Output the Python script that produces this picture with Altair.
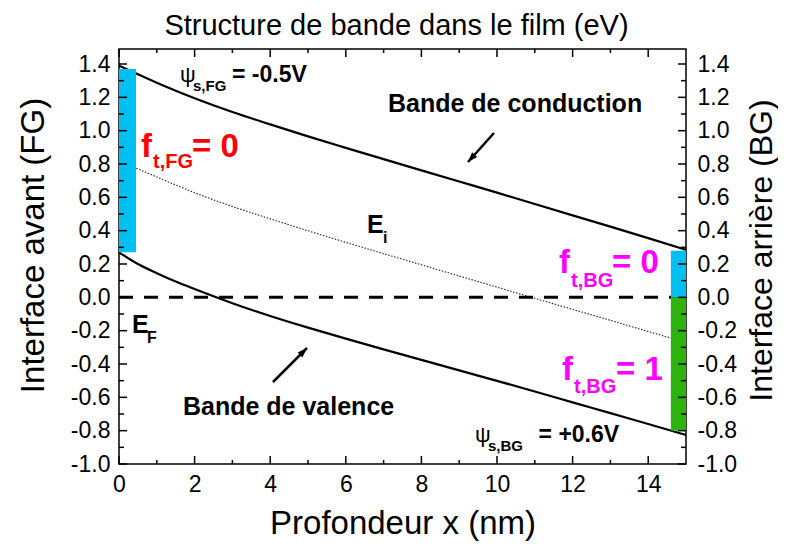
import math
import altair as alt
import pandas as pd

# ---------------- data ----------------
depth_nm = [0, 0.5, 1, 1.5, 2, 3, 4, 5, 6, 7, 8, 9, 10, 11, 12, 13, 14, 15]
conduction_eV = [1.39, 1.338, 1.288, 1.24, 1.195, 1.112, 1.038, 0.966, 0.897, 0.829,
                 0.762, 0.695, 0.628, 0.56, 0.492, 0.424, 0.355, 0.285]
valence_eV = [0.27, 0.2, 0.145, 0.095, 0.05, -0.035, -0.112, -0.182, -0.248, -0.312,
              -0.375, -0.438, -0.501, -0.565, -0.63, -0.695, -0.76, -0.826]
intrinsic_eV = [0.815, 0.77, 0.722, 0.674, 0.628, 0.545, 0.471, 0.399, 0.33, 0.262,
                0.195, 0.128, 0.061, -0.006, -0.072, -0.138, -0.205, -0.27]
fermi_eV = [0.0]
fermi_span = [0, 15]

# interface trap occupancy bands (depth range, energy range)
trap_x0 = [0, 14.6, 14.6]
trap_x1 = [0.45, 15, 15]
trap_e0 = [0.27, 0.0, -0.8]
trap_e1 = [1.37, 0.28, 0.0]
trap_kind = ["empty", "empty", "full"]

# arrows (tail -> head) in data units
arrow_x0 = [9.92, 4.074]
arrow_y0 = [0.986, -0.508]
arrow_x1 = [9.233, 4.974]
arrow_y1 = [0.812, -0.304]

# tick values
x_major = [0, 2, 4, 6, 8, 10, 12, 14]
x_minor = [1, 3, 5, 7, 9, 11, 13]
y_major = [-1.0, -0.8, -0.6, -0.4, -0.2, 0.0, 0.2, 0.4, 0.6, 0.8, 1.0, 1.2, 1.4]
y_minor = [-0.9, -0.7, -0.5, -0.3, -0.1, 0.1, 0.3, 0.5, 0.7, 0.9, 1.1, 1.3]

chart_title = "Structure de bande dans le film (eV)"

# annotations: (text, x, y, style)
annotations = [
    ("\u03c8", 1.614, 1.292, "psi"),
    ("s,FG", 1.958, 1.238, "psisub"),
    ("= -0.5V", 2.989, 1.292, "psival"),
    ("Bande de conduction", 7.116, 1.112, "band"),
    ("f", 0.582, 0.842, "ft_red"),
    ("t,FG", 0.899, 0.776, "ftsub_red"),
    ("= 0", 1.931, 0.842, "ft_red"),
    ("E", 6.561, 0.386, "band"),
    ("i", 6.984, 0.326, "esub"),
    ("E", 0.344, -0.214, "band"),
    ("F", 0.741, -0.274, "esub"),
    ("Bande de valence", 1.693, -0.706, "band"),
    ("f", 11.64, 0.146, "ft_mag"),
    ("t,BG", 11.958, 0.062, "ftsub_mag"),
    ("= 0", 13.042, 0.146, "ft_mag"),
    ("f", 11.72, -0.496, "ft_mag"),
    ("t,BG", 12.037, -0.574, "ftsub_mag"),
    ("= 1", 13.148, -0.496, "ft_mag"),
    ("\u03c8", 9.418, -0.868, "psi"),
    ("s,BG", 9.762, -0.922, "psisub"),
    ("= +0.6V", 11.1, -0.868, "psival"),
]

# ---------------- styles ----------------
FONT = "Liberation Sans"
W, H = 567, 415
X_DOM = [0, 15]
Y_DOM = [-1.0, 1.49]
BLUE = "#00C0F2"
GREEN = "#2DB40C"
styles = {
    "psi": dict(fontSize=22, fontWeight="normal", color="black"),
    "psisub": dict(fontSize=15, fontWeight="bold", color="black"),
    "psival": dict(fontSize=23, fontWeight="bold", color="black"),
    "band": dict(fontSize=25, fontWeight="bold", color="black"),
    "esub": dict(fontSize=16, fontWeight="bold", color="black"),
    "ft_red": dict(fontSize=33, fontWeight="bold", color="#FF0000"),
    "ftsub_red": dict(fontSize=20, fontWeight="bold", color="#FF0000"),
    "ft_mag": dict(fontSize=33, fontWeight="bold", color="#FF00FF"),
    "ftsub_mag": dict(fontSize=20, fontWeight="bold", color="#FF00FF"),
}

xs = alt.Scale(domain=X_DOM, nice=False, zero=False)
ys = alt.Scale(domain=Y_DOM, nice=False, zero=False)
minus_fix = "replace(format(datum.value, '.1f'), '\u2212', '-')"

xaxis = alt.Axis(values=x_major, format="d", ticks=False, domain=False, grid=False,
                 labelFont=FONT, labelFontSize=23, labelColor="black", labelPadding=9,
                 labelFlush=False, title="Profondeur x (nm)", titleFont=FONT,
                 titleFontSize=33, titleFontWeight="normal", titleColor="black",
                 titleX=W / 2, titleY=69, titleBaseline="alphabetic", titleAlign="center")
yaxis = alt.Axis(values=y_major, labelExpr=minus_fix, ticks=False, domain=False, grid=False,
                 labelFont=FONT, labelFontSize=23, labelColor="black", labelPadding=9,
                 labelFlush=False, title="Interface avant (FG)", titleFont=FONT,
                 titleFontSize=33, titleFontWeight="normal", titleColor="black",
                 titleAngle=270, titleX=-76, titleY=196, titleBaseline="alphabetic",
                 titleAlign="center")
yaxis_r = alt.Axis(orient="right", values=y_major, labelExpr=minus_fix, ticks=False,
                   domain=False, grid=False, labelFont=FONT, labelFontSize=23,
                   labelColor="black", labelPadding=11, labelFlush=False,
                   title="Interface arri\u00e8re (BG)", titleFont=FONT, titleFontSize=32,
                   titleFontWeight="normal", titleColor="black", titleAngle=270,
                   titleX=85, titleY=201, titleBaseline="alphabetic", titleAlign="center")


def X(f):
    return alt.X(f, type="quantitative", scale=xs, axis=xaxis)


def Y(f):
    return alt.Y(f, type="quantitative", scale=ys, axis=yaxis)


bands = pd.DataFrame({"x": depth_nm, "cb": conduction_eV, "vb": valence_eV, "ei": intrinsic_eV})

ei_line = alt.Chart(bands).mark_line(color="#222222", strokeWidth=1.1, interpolate="monotone",
                                     strokeDash=[1.5, 1.6]).encode(x=X("x"), y=Y("ei"))
ef_df = pd.DataFrame({"x0": [fermi_span[0]], "x1": [fermi_span[1]], "e": fermi_eV})
ef_line = alt.Chart(ef_df).mark_rule(color="black", strokeWidth=3,
                                     strokeDash=[14, 11]).encode(x=X("x0"), x2="x1", y=Y("e"))
cb_line = alt.Chart(bands).mark_line(color="black", strokeWidth=2.2,
                                     interpolate="monotone").encode(x=X("x"), y=Y("cb"))
vb_line = alt.Chart(bands).mark_line(color="black", strokeWidth=2.2,
                                     interpolate="monotone").encode(x=X("x"), y=Y("vb"))

traps = pd.DataFrame({"x0": trap_x0, "x1": trap_x1, "e0": trap_e0, "e1": trap_e1, "k": trap_kind})
trap_rects = alt.Chart(traps).mark_rect(clip=True).encode(
    x=X("x0"), x2="x1", y=Y("e0"), y2="e1",
    color=alt.Color("k:N", scale=alt.Scale(domain=["empty", "full"], range=[BLUE, GREEN]),
                    legend=None))

# ticks drawn inward on all four sides
xt = pd.DataFrame({"v": x_major})
xtm = pd.DataFrame({"v": x_minor})
yt = pd.DataFrame({"v": y_major})
ytm = pd.DataFrame({"v": y_minor})
tick_layers = []
for df, ln in ((xt, 8), (xtm, 4)):
    tick_layers.append(alt.Chart(df).mark_rule(color="black", strokeWidth=1.5).encode(
        x=X("v"), y=alt.value(H), y2=alt.value(H - ln)))
    tick_layers.append(alt.Chart(df).mark_rule(color="black", strokeWidth=1.5).encode(
        x=X("v"), y=alt.value(0), y2=alt.value(ln)))
for df, ln in ((yt, 8), (ytm, 5)):
    tick_layers.append(alt.Chart(df).mark_rule(color="black", strokeWidth=1.5).encode(
        y=Y("v"), x=alt.value(0), x2=alt.value(ln)))
    tick_layers.append(alt.Chart(df).mark_rule(color="black", strokeWidth=1.5).encode(
        y=Y("v"), x=alt.value(W), x2=alt.value(W - ln)))

# arrows
px_x = W / (X_DOM[1] - X_DOM[0])
px_y = H / (Y_DOM[1] - Y_DOM[0])
angles = []
for a, b, c, d in zip(arrow_x0, arrow_y0, arrow_x1, arrow_y1):
    dx = (c - a) * px_x
    dy = -(d - b) * px_y
    angles.append(math.degrees(math.atan2(dx, -dy)) % 360)
arrows = pd.DataFrame({"x0": arrow_x0, "y0": arrow_y0, "x1": arrow_x1, "y1": arrow_y1,
                       "ang": angles})
arrow_shafts = alt.Chart(arrows).mark_rule(color="black", strokeWidth=2.5).encode(
    x=X("x0"), y=Y("y0"), x2="x1", y2="y1")
arrow_heads = alt.Chart(arrows).mark_point(
    shape="M0,0L-0.75,2.2L0.75,2.2Z", filled=True, size=81, color="black", opacity=1,
    strokeWidth=0).encode(x=X("x1"), y=Y("y1"), angle=alt.Angle("ang:Q", scale=None))

text_layers = []
for style_name, st in styles.items():
    rows = [a for a in annotations if a[3] == style_name]
    if not rows:
        continue
    df = pd.DataFrame({"t": [r[0] for r in rows], "x": [r[1] for r in rows],
                       "y": [r[2] for r in rows]})
    text_layers.append(alt.Chart(df).mark_text(
        align="left", baseline="alphabetic", font=FONT, **st).encode(
        x=X("x"), y=Y("y"), text="t:N"))

# chart title drawn as a text mark above the frame
title_layer = alt.Chart(pd.DataFrame({"t": [chart_title]})).mark_text(
    align="center", baseline="alphabetic", font=FONT, fontSize=29, color="black").encode(
    x=alt.value(W / 2 - 6), y=alt.value(-14), text="t:N")

base = alt.layer(ei_line, ef_line, cb_line, vb_line, trap_rects, *tick_layers,
                 arrow_shafts, arrow_heads, *text_layers, title_layer)

right_axis = alt.Chart(bands).mark_point(opacity=0).encode(
    x=X("x"), y=alt.Y("cb:Q", scale=ys, axis=yaxis_r))

chart = alt.layer(base, right_axis).resolve_scale(y="independent").properties(
    width=W, height=H,
    autosize=alt.AutoSizeParams(type="none"),
    padding={"left": 111, "top": 41, "right": 92, "bottom": 80},
).configure_view(stroke="black", strokeWidth=1.5)

chart.save("out.html", embed_options={"renderer": "svg", "actions": False})
